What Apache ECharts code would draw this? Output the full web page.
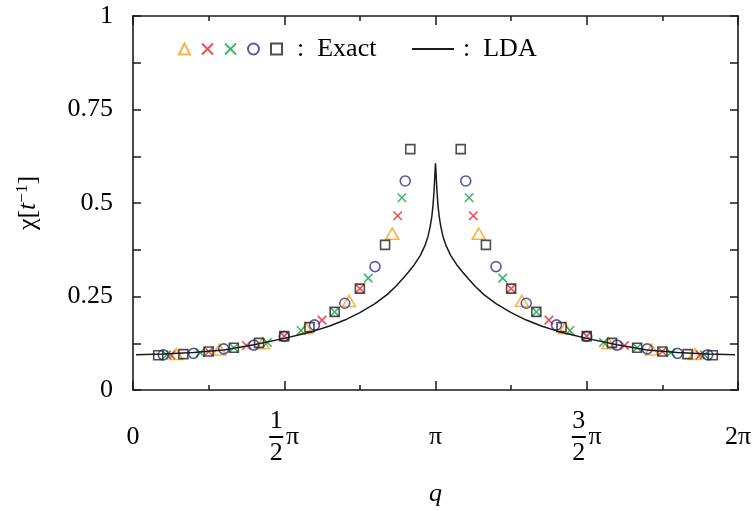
<!DOCTYPE html>
<html>
<head>
<meta charset="utf-8">
<script src="https://cdn.jsdelivr.net/npm/echarts@6/dist/echarts.min.js"></script>
<style>
  html, body { margin: 0; padding: 0; background: #fff; }
  #chart { width: 754px; height: 511px; }
</style>
</head>
<body>
<div id="chart"></div>
<script>
// Susceptibility chi(q) on rings of N sites; q = 2*pi*k/N, stored below in units of pi.
// Each exact array lists k = 1 .. N-1 (null at k = N/2, i.e. q = pi).
const exact14 = [0.096, 0.108, 0.125, 0.165, 0.238, 0.418, null, 0.418, 0.238, 0.165, 0.125, 0.108, 0.096];
const exact16 = [0.094, 0.103, 0.119, 0.144, 0.187, 0.271, 0.466, null, 0.466, 0.271, 0.187, 0.144, 0.119, 0.103, 0.094];
const exact18 = [0.094, 0.100, 0.113, 0.127, 0.159, 0.209, 0.299, 0.514, null, 0.514, 0.299, 0.209, 0.159, 0.127, 0.113, 0.100, 0.094];
const exact20 = [0.094, 0.098, 0.110, 0.120, 0.143, 0.174, 0.232, 0.330, 0.559, null, 0.559, 0.330, 0.232, 0.174, 0.143, 0.120, 0.110, 0.098, 0.094];
const exact24 = [0.093, 0.096, 0.103, 0.113, 0.126, 0.144, 0.168, 0.209, 0.271, 0.388, 0.644, null, 0.644, 0.388, 0.271, 0.209, 0.168, 0.144, 0.126, 0.113, 0.103, 0.096, 0.093];

// LDA curve (q in units of pi)
const ldaQ = [
  0.010, 0.100, 0.200, 0.300, 0.400, 0.500, 0.550, 0.600, 0.650, 0.700, 0.750, 0.800, 0.840, 0.870, 0.890,
  0.910, 0.930, 0.950, 0.965, 0.975, 0.982, 0.988, 0.992, 0.995, 0.997, 0.9985, 1.000,
  1.0015, 1.003, 1.005, 1.008, 1.012, 1.018, 1.025, 1.035, 1.050, 1.070, 1.090, 1.110, 1.130, 1.160,
  1.200, 1.250, 1.300, 1.350, 1.400, 1.450, 1.500, 1.600, 1.700, 1.800, 1.900, 1.990
];
const ldaChi = [
  0.094, 0.096, 0.100, 0.107, 0.121, 0.138, 0.148, 0.158, 0.171, 0.187, 0.207, 0.231, 0.255, 0.278, 0.296,
  0.315, 0.335, 0.360, 0.386, 0.410, 0.435, 0.465, 0.495, 0.530, 0.560, 0.585, 0.606,
  0.585, 0.560, 0.530, 0.495, 0.465, 0.435, 0.410, 0.386, 0.360, 0.335, 0.315, 0.296, 0.278, 0.255,
  0.231, 0.207, 0.187, 0.171, 0.158, 0.148, 0.138, 0.121, 0.107, 0.100, 0.096, 0.094
];

// Axis tick labels
const yTickLabels = ['0', '0.25', '0.5', '0.75', '1'];
const xTickLabels = [
  { at: 0,   num: '',  den: '',  main: '0'  },
  { at: 0.5, num: '1', den: '2', main: 'π'  },
  { at: 1,   num: '',  den: '',  main: 'π'  },
  { at: 1.5, num: '3', den: '2', main: 'π'  },
  { at: 2,   num: '',  den: '',  main: '2π' }
];

const FONT = "'Liberation Serif', 'DejaVu Serif', serif";
const FS = 26;
const INK = '#1a1a1a';

function ringPoints(N, vals) {
  const pts = [];
  vals.forEach((v, i) => { if (v !== null) pts.push([2 * (i + 1) / N, v]); });
  return pts;
}

const crossPath = 'path://M0,0L10,10M10,0L0,10';
const markerSets = [
  { name: 'N=14', vals: exact14, N: 14, symbol: 'triangle', size: [13, 11], color: '#f4a11c' },
  { name: 'N=16', vals: exact16, N: 16, symbol: crossPath,  size: 8.5,      color: '#ec1f27' },
  { name: 'N=18', vals: exact18, N: 18, symbol: crossPath,  size: 8.5,      color: '#10a54a' },
  { name: 'N=20', vals: exact20, N: 20, symbol: 'circle',   size: 10,       color: '#2e3192' },
  { name: 'N=24', vals: exact24, N: 24, symbol: 'rect',     size: 9,        color: '#222222' }
];

const series = markerSets.map(m => ({
  type: 'scatter',
  name: m.name,
  data: ringPoints(m.N, m.vals),
  symbol: m.symbol,
  symbolSize: m.size,
  itemStyle: { color: 'transparent', borderColor: m.color, borderWidth: 1.6 },
  emphasis: { disabled: true },
  silent: true
}));
series.push({
  type: 'line',
  name: 'LDA',
  data: ldaQ.map((q, i) => [q, ldaChi[i]]),
  showSymbol: false,
  symbol: 'none',
  smooth: false,
  lineStyle: { color: INK, width: 1.5 },
  itemStyle: { color: INK },
  emphasis: { disabled: true },
  silent: true,
  z: 3
});

function xLabel(value) {
  const lab = xTickLabels.find(t => Math.abs(t.at - value) < 1e-9);
  if (!lab) return '';
  if (!lab.num) return '{m|' + lab.main + '}';
  return '{n|' + lab.num + '}{s|}\n{b|}{p|' + lab.main + '}\n{n|' + lab.den + '}{s|}';
}

function yLabel(value) {
  const idx = Math.round(value / 0.25);
  return yTickLabels[idx] !== undefined ? yTickLabels[idx] : '';
}

function axisX(extra) {
  return Object.assign({
    type: 'value', min: 0, max: 2, interval: 0.5,
    axisLine: { show: true, onZero: false, lineStyle: { color: INK, width: 1.6 } },
    axisTick: { show: true, inside: true, length: 9, lineStyle: { color: INK, width: 1.5 } },
    minorTick: { show: true, splitNumber: 2, length: 5, lineStyle: { color: INK, width: 1.5 } },
    splitLine: { show: false }
  }, extra);
}
function axisY(extra) {
  return Object.assign({
    type: 'value', min: 0, max: 1, interval: 0.25,
    axisLine: { show: true, onZero: false, lineStyle: { color: INK, width: 1.6 } },
    axisTick: { show: true, inside: true, length: 8, lineStyle: { color: INK, width: 1.5 } },
    minorTick: { show: true, splitNumber: 2, length: 8, lineStyle: { color: INK, width: 1.5 } },
    splitLine: { show: false }
  }, extra);
}

const option = {
  animation: false,
  backgroundColor: '#fff',
  grid: { left: 133, right: 16, top: 16, bottom: 121, containLabel: false, outerBoundsMode: 'none' },
  legend: [
    {
      left: 178, top: 36, padding: 0, itemWidth: 11, itemHeight: 11, itemGap: 10,
      selectedMode: false,
      data: ['N=14', 'N=16', 'N=18', 'N=20', 'N=24'],
      formatter: n => (n === 'N=24' ? ':  Exact' : ''),
      textStyle: { fontFamily: FONT, fontSize: FS, color: '#000', padding: [0, 0, 0, 10] }
    },
    {
      left: 412, top: 36, padding: 0, itemWidth: 42, itemHeight: 2,
      selectedMode: false,
      data: [{ name: 'LDA', icon: 'rect' }],
      formatter: () => ':  LDA',
      textStyle: { fontFamily: FONT, fontSize: FS, color: '#000', padding: [0, 0, 0, 4] }
    }
  ],
  xAxis: [
    axisX({
      position: 'bottom',
      name: 'q',
      nameLocation: 'middle',
      nameGap: 91,
      nameTextStyle: { fontFamily: FONT, fontSize: FS, fontStyle: 'italic', color: '#000' },
      axisLabel: {
        show: true, margin: 47, verticalAlign: 'middle', showMinLabel: true, showMaxLabel: true,
        color: '#000', fontFamily: FONT, fontSize: FS,
        formatter: xLabel,
        rich: {
          m: { fontFamily: FONT, fontSize: FS, color: '#000' },
          n: { fontFamily: FONT, fontSize: FS, color: '#000', width: 14, align: 'center', lineHeight: 30 },
          s: { width: 16, lineHeight: 30 },
          b: { width: 14, height: 2, backgroundColor: '#000' },
          p: { fontFamily: FONT, fontSize: FS, color: '#000', width: 16, align: 'right', lineHeight: 2 }
        }
      }
    }),
    axisX({ position: 'top', axisLabel: { show: false } })
  ],
  yAxis: [
    axisY({
      position: 'left',
      name: '{a|χ[}{t|t}{s|−1}{a|]}',
      nameLocation: 'middle',
      nameRotate: 90,
      nameGap: 90,
      nameTextStyle: {
        fontFamily: FONT, fontSize: FS, color: '#000',
        rich: {
          a: { fontFamily: FONT, fontSize: FS, color: '#000' },
          t: { fontFamily: FONT, fontSize: FS, fontStyle: 'italic', color: '#000' },
          s: { fontFamily: FONT, fontSize: 17, color: '#000', padding: [0, 0, 12, 0] }
        }
      },
      axisLabel: {
        show: true, margin: 20, showMinLabel: true, showMaxLabel: true,
        color: '#000', fontFamily: FONT, fontSize: FS, formatter: yLabel
      }
    }),
    axisY({ position: 'right', axisLabel: { show: false } })
  ],
  series: series
};

const chart = echarts.init(document.getElementById('chart'), null, { renderer: 'canvas' });
chart.setOption(option);
</script>
</body>
</html>
